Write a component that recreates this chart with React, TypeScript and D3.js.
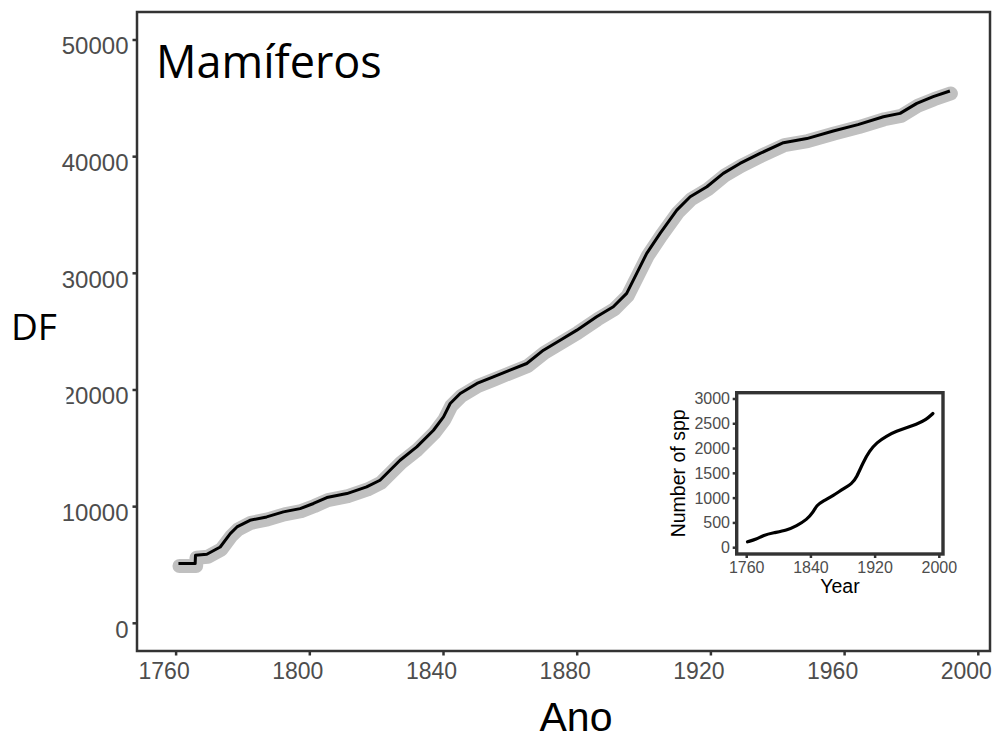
import React from "react";
import * as d3 from "d3";

// Main series: cumulative count (DF) by year
const mainYears = [1760.7, 1765.7, 1765.8, 1769.2, 1773.2, 1776.2, 1778.2, 1782.1, 1787.1, 1792.1, 1797.1, 1801.1, 1805.1, 1811.1, 1817.0, 1821.0, 1827.0, 1832.0, 1837.0, 1840.0, 1842.0, 1845.0, 1850.0, 1854.9, 1859.9, 1864.9, 1869.9, 1874.9, 1879.9, 1885.8, 1890.8, 1894.8, 1897.8, 1900.8, 1904.8, 1909.8, 1913.8, 1918.8, 1923.7, 1928.7, 1934.7, 1941.7, 1948.7, 1956.6, 1964.0, 1971.6, 1976.6, 1981.6, 1986.5, 1991.5];
const mainValues = [5120, 5120, 5830, 5920, 6540, 7690, 8260, 8830, 9120, 9550, 9830, 10270, 10780, 11120, 11690, 12260, 13980, 15120, 16550, 17690, 18840, 19700, 20560, 21120, 21700, 22270, 23410, 24270, 25130, 26270, 27130, 28280, 29990, 31710, 33420, 35420, 36560, 37420, 38570, 39420, 40280, 41200, 41550, 42200, 42750, 43420, 43710, 44570, 45140, 45630];

// Inset series: number of species by year
const insetYears = [1761, 1772, 1781, 1793, 1810, 1822, 1835, 1843, 1847, 1855, 1868, 1880, 1891, 1897, 1905, 1913, 1922, 1934, 1947, 1959, 1971, 1984, 1992];
const insetValues = [120, 167, 253, 300, 353, 440, 567, 720, 853, 940, 1053, 1187, 1287, 1420, 1720, 1953, 2120, 2253, 2353, 2420, 2487, 2587, 2707];

const mainXTicks = [1760, 1800, 1840, 1880, 1920, 1960, 2000];
const mainYTicks = [0, 10000, 20000, 30000, 40000, 50000];
const insetXTicks = [1760, 1840, 1920, 2000];
const insetYTicks = [0, 500, 1000, 1500, 2000, 2500, 3000];

const W = 999;
const H = 740;

export default function App() {
  const pL = 137, pR = 990, pT = 12, pB = 651;
  const x = d3.scaleLinear().domain([1748.3, 2003.5]).range([pL, pR]);
  const y = d3.scaleLinear().domain([-2374, 52400]).range([pB, pT]);

  const iL = 736.7, iR = 943, iT = 392.7, iB = 554;
  const xi = d3.scaleLinear().domain([1747.5, 2004.6]).range([iL, iR]);
  const yi = d3.scaleLinear().domain([-127, 3127]).range([iB, iT]);

  const mainData = mainYears.map((yr, i) => [yr, mainValues[i]] as [number, number]);
  const insetData = insetYears.map((yr, i) => [yr, insetValues[i]] as [number, number]);

  const mainPath = d3
    .line<[number, number]>()
    .x((d) => x(d[0]))
    .y((d) => y(d[1]))
    .curve(d3.curveLinear)(mainData) as string;
  const insetPath = d3
    .line<[number, number]>()
    .x((d) => xi(d[0]))
    .y((d) => yi(d[1]))
    .curve(d3.curveBasis)(insetData) as string;

  const grey = "#4d4d4d";
  const frame = "#333333";
  const sans = "Liberation Sans, Arial, sans-serif";

  return (
    <svg
      width={W}
      height={H}
      style={{ position: "absolute", left: 0, top: 0, background: "#fff" }}
    >
      <rect x={0} y={0} width={W} height={H} fill="#fff" />
      {/* confidence band */}
      <path
        d={mainPath}
        fill="none"
        stroke="#c0c0c0"
        strokeWidth={14}
        strokeLinejoin="round"
        strokeLinecap="round"
        transform="translate(1,2.5)"
      />
      <path d={mainPath} fill="none" stroke="#000" strokeWidth={3} strokeLinejoin="round" />

      {/* main frame */}
      <rect x={pL} y={pT} width={pR - pL} height={pB - pT} fill="none" stroke={frame} strokeWidth={2.5} />
      {mainYTicks.map((t) => (
        <g key={"y" + t}>
          <line x1={pL - 4.5} x2={pL} y1={y(t)} y2={y(t)} stroke={frame} strokeWidth={2.5} />
          <text x={128.5} y={y(t) + 14.5} textAnchor="end" fontFamily={sans} fontSize={24} fill={grey}>
            {t}
          </text>
        </g>
      ))}
      {mainXTicks.map((t) => (
        <g key={"x" + t}>
          <line x1={x(t)} x2={x(t)} y1={pB} y2={pB + 4.5} stroke={frame} strokeWidth={2.5} />
          <text x={x(t) - 12} y={678.5} textAnchor="middle" fontFamily={sans} fontSize={23} fill={grey}>
            {t}
          </text>
        </g>
      ))}
      {/* mask over the first digit of 20000 as in the reference */}
      <rect x={40} y={y(20000) - 2} width={26.5} height={24} fill="#fff" />

      <text x={156} y={78} fontFamily="Open Sans, Noto Sans, sans-serif" fontSize={45} fill="#000">
        Mamíferos
      </text>
      <text x={11} y={340} fontFamily="Open Sans, Noto Sans, sans-serif" fontSize={37} fill="#000">
        DF
      </text>
      <text x={576} y={731} textAnchor="middle" fontFamily={sans} fontSize={41} fill="#000">
        Ano
      </text>

      {/* inset */}
      <rect x={iL} y={iT} width={iR - iL} height={iB - iT} fill="#fff" stroke={frame} strokeWidth={3.4} />
      <path d={insetPath} fill="none" stroke="#000" strokeWidth={3.2} strokeLinecap="round" />
      {insetYTicks.map((t) => (
        <g key={"iy" + t}>
          <line x1={iL - 4} x2={iL} y1={yi(t)} y2={yi(t)} stroke={frame} strokeWidth={2.5} />
          <text x={730} y={yi(t) + 5.5} textAnchor="end" fontFamily={sans} fontSize={16} fill={grey}>
            {t}
          </text>
        </g>
      ))}
      {insetXTicks.map((t) => (
        <g key={"ix" + t}>
          <line x1={xi(t)} x2={xi(t)} y1={iB} y2={iB + 4} stroke={frame} strokeWidth={2.5} />
          <text x={xi(t)} y={573} textAnchor="middle" fontFamily={sans} fontSize={16} fill={grey}>
            {t}
          </text>
        </g>
      ))}
      <text x={840} y={593} textAnchor="middle" fontFamily={sans} fontSize={19.5} fill="#000">
        Year
      </text>
      <text
        transform={`translate(685,${(iT + iB) / 2}) rotate(-90)`}
        textAnchor="middle"
        fontFamily={sans}
        fontSize={19.5}
        fill="#000"
      >
        Number of spp
      </text>
    </svg>
  );
}
